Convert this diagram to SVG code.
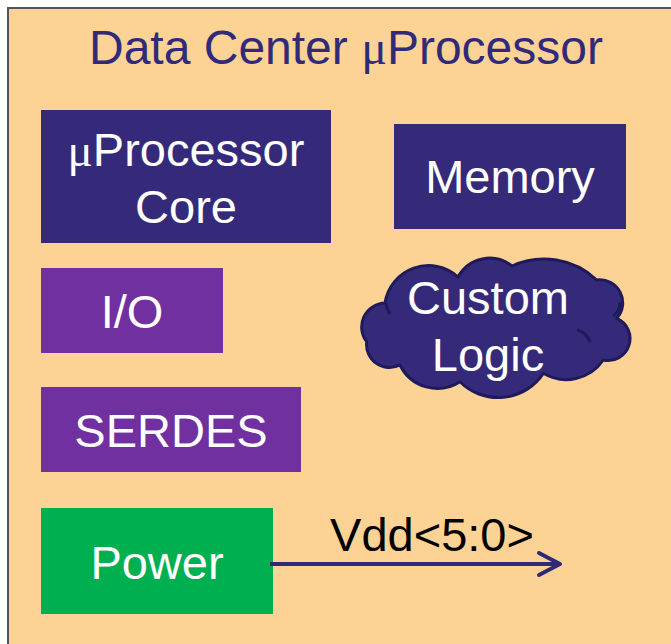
<svg xmlns="http://www.w3.org/2000/svg" width="671" height="644" viewBox="0 0 671 644">
  <defs>
    <style>
      .label { font-family: "Liberation Sans", Arial, sans-serif; font-size: 47px; fill: #ffffff; text-anchor: middle; }
      .mu { font-family: "Liberation Serif", "Times New Roman", serif; }
      .navy { fill: #352A7A; }
      .purple { fill: #7030A0; }
      .green { fill: #00B050; }
      .wire { stroke: #302878; stroke-width: 4; fill: none; }
      .fold { fill: none; stroke: #1F1A5C; stroke-width: 3; }
    </style>
  </defs>

  <!-- page background and chip frame -->
  <rect x="0" y="0" width="671" height="644" fill="#ffffff"/>
  <rect x="8" y="8" width="680" height="660" fill="#FCD395" stroke="#555555" stroke-width="2"/>

  <g id="title">
    <text x="89" y="64" font-family="'Liberation Sans', Arial, sans-serif" font-size="48" fill="#312A7A">Data Center <tspan class="mu">μ</tspan>Processor</text>
  </g>

  <g id="core">
    <rect class="navy" x="41" y="110" width="290" height="133"/>
    <text class="label" x="186" y="166"><tspan class="mu">μ</tspan>Processor</text>
    <text class="label" x="186" y="223">Core</text>
  </g>

  <g id="memory">
    <rect class="navy" x="394" y="124" width="232" height="105"/>
    <text class="label" x="510" y="193">Memory</text>
  </g>

  <g id="io">
    <rect class="purple" x="41" y="268" width="182" height="85"/>
    <text class="label" x="132" y="328">I/O</text>
  </g>

  <g id="serdes">
    <rect class="purple" x="41" y="387" width="260" height="85"/>
    <text class="label" x="171" y="447">SERDES</text>
  </g>

  <g id="power">
    <rect class="green" x="41" y="508" width="232" height="106"/>
    <text class="label" x="157" y="579">Power</text>
  </g>

  <g id="custom-logic">
    <path d="M 366.7 341.7
             A 24 24 0 0 1 385 303
             A 44 44 0 0 1 458 277
             A 36 36 0 0 1 512 266
             A 77 77 0 0 1 596.7 280
             A 23 23 0 0 1 616.7 318.3
             A 22 22 0 0 1 603.3 360
             A 45 45 0 0 1 543.3 373.3
             A 54 54 0 0 1 460 381.7
             A 41.6 41.6 0 0 1 400 365
             A 23 23 0 0 1 366.7 341.7 Z"
          fill="#352A7A" stroke="#1F1A5C" stroke-width="3" stroke-linejoin="round"/>
    <!-- inner fold arcs of the cloud -->
    <path class="fold" d="M 577 330 A 18 18 0 0 1 590 342"/>
    <path class="fold" d="M 613 316 A 16 16 0 0 0 620 302"/>
    <path class="fold" d="M 386 303 A 20 20 0 0 0 390 314"/>
    <text class="label" x="488" y="314">Custom</text>
    <text class="label" x="488" y="371">Logic</text>
  </g>

  <g id="connectors">
    <line class="wire" x1="270" y1="564" x2="558" y2="564"/>
    <polyline class="wire" points="539,553 560,564 539,575" stroke-linecap="round" stroke-linejoin="round"/>
    <text x="432" y="551" font-family="'Liberation Sans', Arial, sans-serif" font-size="47" fill="#000000" text-anchor="middle">Vdd&lt;5:0&gt;</text>
  </g>
</svg>
